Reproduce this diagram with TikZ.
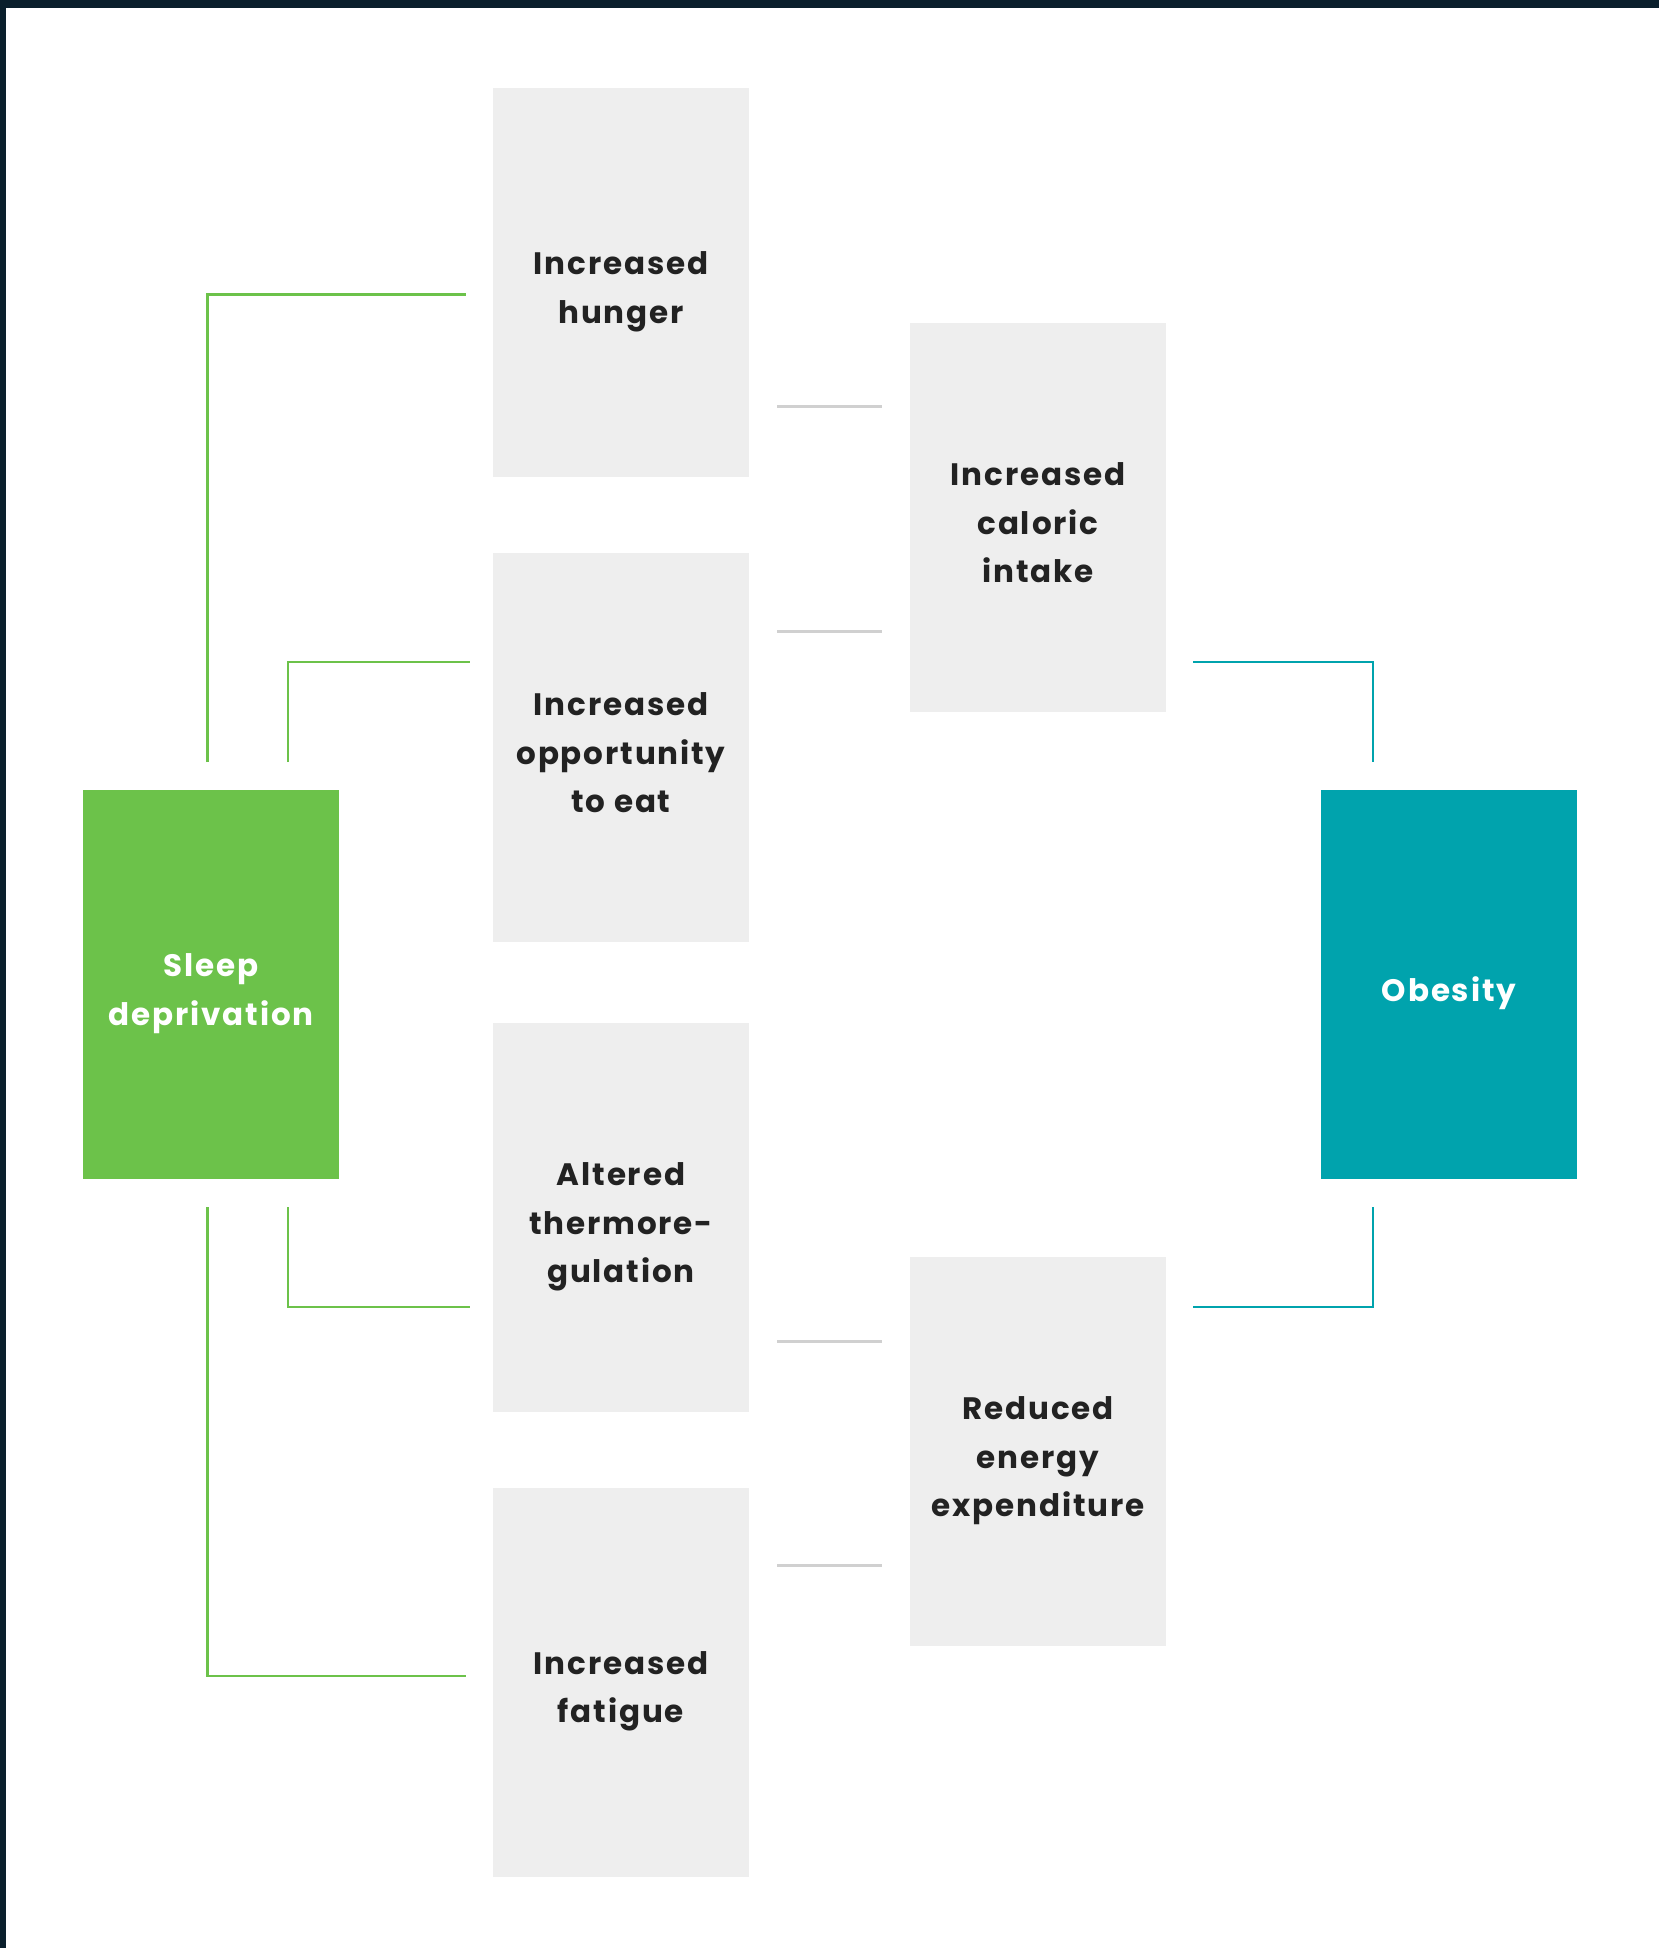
\documentclass[tikz,border=0pt]{standalone}
\usepackage{fontspec}
\setmainfont{Poppins}[LetterSpace=6]
\usetikzlibrary{positioning}

\definecolor{boxgrey}{HTML}{EEEEEE}
\definecolor{sleepgreen}{HTML}{6CC24A}
\definecolor{obeseteal}{HTML}{00A3AD}
\definecolor{linegrey}{HTML}{D0D0D0}
\definecolor{edgedark}{HTML}{0A1F2C}
\definecolor{textdark}{HTML}{222222}

% box text, set a little below the middle
\newcommand{\boxtext}[1]{\raisebox{-7pt}[0pt][0pt]{\begin{tabular}{@{}c@{}}#1\end{tabular}}}

\tikzset{
  cause/.style={rectangle, fill=boxgrey, text=textdark, minimum width=128pt,
    minimum height=194.5pt, inner sep=0pt, align=center,
    font=\fontsize{15.5}{24.25}\selectfont\bfseries},
  endbox/.style={cause, text=white},
  greenline/.style={draw=sleepgreen, line width=1.3pt},
  tealline/.style={draw=obeseteal, line width=1.3pt},
  greyline/.style={draw=linegrey, line width=1.5pt}
}

\begin{document}
\begin{tikzpicture}[x=0.5pt,y=-0.5pt]
\useasboundingbox (0,0) rectangle (1659,1948);
\fill[edgedark] (0,0) rectangle (1659,8);
\fill[edgedark] (0,0) rectangle (6,1948);

% boxes
\node[endbox, fill=sleepgreen] (sleep) at (211,984.5) {\boxtext{Sleep\\deprivation}};
\node[endbox, fill=obeseteal] (obesity) at (1449,984.5) {\boxtext{Obesity}};

\node[cause] (hunger) at (621,282.5) {\boxtext{Increased\\hunger}};
\node[cause] (opportunity) at (621,747.5) {\boxtext{Increased\\opportunity\\to eat}};
\node[cause] (thermo) at (621,1217.5) {\boxtext{Altered\\thermore-\\gulation}};
\node[cause] (fatigue) at (621,1682) {\boxtext{Increased\\fatigue}};

\node[cause] (caloric) at (1038,517.5) {\boxtext{Increased\\caloric\\intake}};
\node[cause] (energy) at (1038,1451.5) {\boxtext{Reduced\\energy\\expenditure}};

% connector ends
\coordinate (hungerin) at (466,294.5);
\coordinate (opportin) at (470,662);
\coordinate (thermoin) at (470,1307);
\coordinate (fatiguein) at (466,1676);
\coordinate (sleepouter) at (207.5,762);
\coordinate (sleepinner) at (288,762);
\coordinate (sleepinnerlow) at (288,1207);
\coordinate (sleepouterlow) at (207.5,1207);

\coordinate (hungerout) at (777,406);
\coordinate (caloricina) at (882,406);
\coordinate (opportout) at (777,631);
\coordinate (caloricinb) at (882,631);
\coordinate (thermoout) at (777,1341);
\coordinate (energyina) at (882,1341);
\coordinate (fatigueout) at (777,1565);
\coordinate (energyinb) at (882,1565);

\coordinate (caloricout) at (1193,662);
\coordinate (obesityina) at (1373,762);
\coordinate (energyout) at (1193,1307);
\coordinate (obesityinb) at (1373,1207);

\draw[greenline] (sleepouter) |- (hungerin);
\draw[greenline] (sleepinner) |- (opportin);
\draw[greenline] (sleepinnerlow) |- (thermoin);
\draw[greenline] (sleepouterlow) |- (fatiguein);

\draw[greyline] (hungerout) -- (caloricina);
\draw[greyline] (opportout) -- (caloricinb);
\draw[greyline] (thermoout) -- (energyina);
\draw[greyline] (fatigueout) -- (energyinb);

\draw[tealline] (caloricout) -| (obesityina);
\draw[tealline] (energyout) -| (obesityinb);
\end{tikzpicture}
\end{document}
